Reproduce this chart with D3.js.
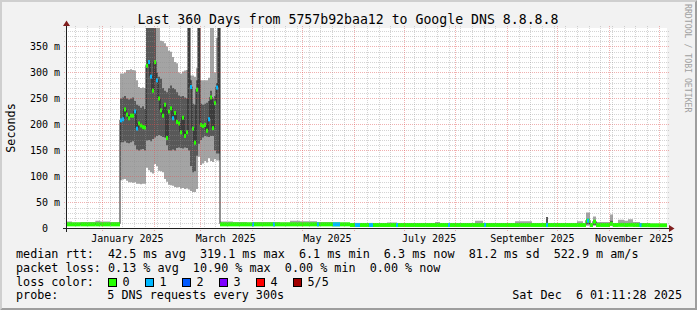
<!DOCTYPE html>
<html><head><meta charset="utf-8">
<script src="https://cdn.jsdelivr.net/npm/d3@7"></script>
<style>
html,body{margin:0;padding:0;background:#f2f2f2;}
svg{display:block;}
text{font-family:"DejaVu Sans Mono",monospace;fill:#000;}
</style></head><body>
<svg id="c" width="697" height="310"></svg>
<script>
// ---------------- data ----------------
const titleText = "Last 360 Days from 5757b92baa12 to Google DNS 8.8.8.8";
const endTimeUTC = [2025, 11, 6, 1, 11, 28];
const rangeDays = 360;
const yMaxMs = 384.6;
const yTickValues = [0, 50, 100, 150, 200, 250, 300, 350];
const xLabelMonths = ["2025-01-01", "2025-03-01", "2025-05-01", "2025-07-01", "2025-09-01", "2025-11-01"];

// early low-latency period (day offsets from chart start), values in ms
const earlyDays = [0, 3, 8, 17, 20, 26];
const earlyLo   = [6.4, 6.4, 6.4, 6.4, 6.4, 6.4];
const earlyP2   = [7.3, 7.3, 7.3, 7.3, 7.3, 7.3];
const earlyMed  = [8, 8, 8, 8, 8, 8];
const earlyP4   = [9.5, 9.5, 9.5, 10, 9.5, 9.5];
const earlyHi   = [13.5, 11.5, 12.5, 15, 13.5, 12.5];

// high-latency period (Jan - Mar 2025), one sample every 1.2 days
const highStartDay = 31.8;
const highStepDays = 1.2;
const highLo  = [93,94,95,92,89,89,88,89,86,86, 85,86,86,117,112,108,106,124,120,111, 110,108,95,90,84,83,82,80,79,80, 77,78,76,77,75,72,70,70,76,138, 122,125,130,127,135,130,128,133,131,131];
const highP2  = [166,166,168,165,164,166,168,160,152,150, 152,153,150,169,170,168,172,175,178,180, 178,176,175,160,150,150,152,150,155,156, 155,154,156,155,150,120,108,110,140,163, 170,175,178,177,176,178,178,150,144,144];
const highMed = [208,210,229,219,212,217,217,225,192,202, 198,195,194,313,320,292,265,320,285,250, 227,217,238,174,225,231,212,222,205,202, 185,213,178,185,430,272,192,165,267,430, 199,197,199,188,210,252,193,241,271,430];
const highP4  = [250,252,255,250,248,250,252,245,238,236, 232,235,230,430,430,430,430,430,300,292, 288,270,265,262,270,275,270,268,262,256, 254,255,252,250,430,285,240,238,285,430, 240,238,240,242,245,265,250,255,280,430];
const highHi  = [298,298,300,305,305,306,305,304,285,272, 270,271,270,430,430,430,430,430,430,430, 361,360,356,350,342,340,330,320,318,300, 298,302,304,305,430,294,294,292,308,430, 285,285,285,285,290,400,400,300,367,430];
const highLoss = [1,1,0,0,0,0,0,1,1,0, 0,0,0,0,1,1,0,0,1,0, 0,0,0,0,0,0,1,0,0,0, 0,0,0,0,0,1,0,0,0,0, 0,0,0,0,1,0,0,0,1,0];

// late low-latency period
const lateDays = [91.8, 99.6, 108, 111.6, 127.8, 133.8, 139.8, 150, 159.6, 169.8, 192, 198, 220.8, 223.8, 244.8, 249.6, 268.8, 279, 287.4, 288.6, 306, 309.6, 311.4, 313.8, 315.6, 317.4, 325.8, 327.6, 330.6, 334.2, 336.6, 339.6, 343.8, 349.8];
const lateLo  = [6.3,6.3,6.3,6.3,6.3,6.3,6.3,6.3,6.3,5.5, 5.5,5.5,5.5,5.5,5.5,5.5,5.5,5.5,5.5,5.5, 5.5,5.5,5.5,5.5,5.5,5.5,5.5,5.5,5.5,5.5, 5.5,5.5,5.5,5.3];
const lateP2  = [7.2,7.2,7.2,7.2,7.2,7.2,7.2,7.2,7.2,6.1, 6.1,6.1,6.1,6.1,6.1,6.1,6.1,6.1,6.3,6.1, 6.1,6.1,8,6.1,7,6.1,6.5,6.1,6.3,6.1, 6.3,6.1,5.9,5.7];
const lateMed = [8,8,8,8,8,8,8,8,8,6.8, 6.8,6.8,6.8,6.8,6.8,6.8,6.8,6.8,7,6.8, 6.8,6.8,15,6.8,13,6.8,9,6.8,7,6.8, 7,6.8,6.5,6.2];
const lateP4  = [9.5,9.5,9.5,9.5,9.5,9.5,9.5,9.5,9.5,8.3, 8.3,8.3,8.3,8.3,8.3,8.3,8.3,8.3,22,8.3, 8.3,8.3,17,8.3,14,8.3,15,8.3,8.5,8.3, 8.5,8.3,8,7.8];
const lateHi  = [13.5,12.5,11.5,12.5,11.5,15,14,12.5,11,9.5, 11.5,10.5,12.5,10,15,10,14,10,22,10, 14,10,31,10,23,12.5,27,10.5,17,15, 18,12.5,10.5,8.5];

// isolated loss events in the low periods
const lossEventDays  = [111, 123.6, 150, 159.6, 172.8, 181.2, 197.4, 228.6, 250.2, 287.4, 312, 343.5];
const lossEventLen   = [1.2, 1.2, 1.2, 4.2, 3, 2.4, 1.2, 1.2, 1.2, 1.2, 1.2, 1.2];
const lossEventLevel = [1, 1, 1, 1, 1, 1, 1, 1, 1, 1, 1, 1];

// legend
const lossLabels = ["0", "1", "2", "3", "4", "5/5"];
const lossColors = ["#26ff00", "#00b8ff", "#0059ff", "#7e00ff", "#ff0000", "#a10000"];
const statsRow1 = "median rtt:  42.5 ms avg  319.1 ms max  6.1 ms min  6.3 ms now  81.2 ms sd  522.9 m am/s";
const statsRow2 = "packet loss: 0.13 % avg  10.90 % max  0.00 % min  0.00 % now";
const lossRowLabel = "loss color:";
const probeLabel = "probe:";
const probeText = "5 DNS requests every 300s";
const dateStamp = "Sat Dec  6 01:11:28 2025";
const yAxisTitle = "Seconds";
const watermark = "RRDTOOL / TOBI OETIKER";

// ---------------- drawing ----------------
const svg = d3.select("#c");
const endTime = new Date(Date.UTC(...endTimeUTC));
const startTime = new Date(+endTime - rangeDays * 864e5);
const dayToDate = d => new Date(+startTime + d * 864e5);

const x = d3.scaleUtc().domain([startTime, endTime]).range([67, 667]);
const y = d3.scaleLinear().domain([0, yMaxMs]).range([228.5, 28.5]);

// background and 3D border
svg.append("rect").attr("width", 697).attr("height", 310).attr("fill", "#f2f2f2");
svg.append("path").attr("d", "M0,310L2,308L2,2L695,2L697,0L0,0Z").attr("fill", "#cfcfcf");
svg.append("path").attr("d", "M2,308L695,308L695,2L697,0L697,310L0,310Z").attr("fill", "#9e9e9e");

// canvas
svg.append("rect").attr("x", 67).attr("y", 28).attr("width", 600).attr("height", 200.5).attr("fill", "#fff");

svg.append("clipPath").attr("id", "plotclip").append("rect")
  .attr("x", 67).attr("y", 28).attr("width", 600).attr("height", 200.5);

// build records
const recs = [];
earlyDays.forEach((d, i) => recs.push({d, lo: earlyLo[i], p2: earlyP2[i], med: earlyMed[i], p4: earlyP4[i], hi: earlyHi[i], loss: 0}));
highMed.forEach((m, i) => recs.push({d: highStartDay + i * highStepDays, lo: highLo[i], p2: highP2[i], med: m, p4: highP4[i], hi: highHi[i], loss: highLoss[i]}));
lateDays.forEach((d, i) => recs.push({d, lo: lateLo[i], p2: lateP2[i], med: lateMed[i], p4: lateP4[i], hi: lateHi[i], loss: 0}));
recs.push(Object.assign({}, recs[recs.length - 1], {d: rangeDays}));

const gData = svg.append("g").attr("clip-path", "url(#plotclip)");
const X = r => x(dayToDate(r.d));

gData.append("path").datum(recs)
  .attr("d", d3.area().curve(d3.curveStepAfter).x(X).y0(r => y(r.lo)).y1(r => y(r.hi)))
  .attr("fill", "#a4a4a4");
gData.append("path").datum(recs)
  .attr("d", d3.area().curve(d3.curveStepAfter).x(X).y0(r => y(r.p2)).y1(r => y(r.p4)))
  .attr("fill", "#585858");
gData.append("path").datum(recs)
  .attr("d", d3.line().curve(d3.curveStepAfter).x(X).y(r => y(r.med) - 0.5))
  .attr("fill", "none").attr("stroke", "#202020").attr("stroke-width", 1);

// loss colour bands on the median
const bandHalf = 2;
const segs = recs.slice(0, -1).map((r, i) => ({x0: X(r), x1: X(recs[i + 1]), ym: y(r.med), loss: r.loss}));
gData.selectAll("rect.band").data(segs).enter().append("rect")
  .attr("x", s => s.x0).attr("width", s => Math.max(0, s.x1 - s.x0))
  .attr("y", s => s.ym - bandHalf).attr("height", bandHalf * 2)
  .attr("fill", s => lossColors[s.loss]);

const bis = d3.bisector(r => r.d).right;
const medAt = d => recs[Math.max(0, bis(recs, d) - 1)].med;
gData.selectAll("rect.ev").data(lossEventDays).enter().append("rect")
  .attr("x", d => x(dayToDate(d)))
  .attr("width", (d, i) => x(dayToDate(d + lossEventLen[i])) - x(dayToDate(d)))
  .attr("y", d => y(medAt(d)) - bandHalf).attr("height", bandHalf * 2)
  .attr("fill", (d, i) => lossColors[lossEventLevel[i]]);

// grid on top (semi-transparent dashed like rrdtool)
const gGrid = svg.append("g");
const minorCol = "rgba(143,143,143,0.38)", majorCol = "rgba(222,79,79,0.45)";
const minorY = d3.range(10, yMaxMs, 10).filter(v => v % 50 !== 0);
const majorY = yTickValues.filter(v => v > 0);
gGrid.selectAll("line.hmin").data(minorY).enter().append("line")
  .attr("x1", 64).attr("x2", 670).attr("y1", v => Math.round(y(v)) + 0.5).attr("y2", v => Math.round(y(v)) + 0.5)
  .attr("stroke", minorCol).attr("stroke-dasharray", "1,1");
gGrid.selectAll("line.hmaj").data(majorY).enter().append("line")
  .attr("x1", 64).attr("x2", 670).attr("y1", v => Math.round(y(v)) + 0.5).attr("y2", v => Math.round(y(v)) + 0.5)
  .attr("stroke", majorCol).attr("stroke-dasharray", "1,1");

const monthStarts = d3.utcMonth.range(startTime, endTime);
const weekStarts = d3.utcMonday.range(startTime, endTime)
  .filter(w => !monthStarts.some(m => Math.abs(x(m) - x(w)) < 2));
gGrid.selectAll("line.vmin").data(weekStarts).enter().append("line")
  .attr("x1", d => Math.round(x(d)) + 0.5).attr("x2", d => Math.round(x(d)) + 0.5)
  .attr("y1", 26).attr("y2", 230)
  .attr("stroke", minorCol).attr("stroke-dasharray", "1,1");
gGrid.selectAll("line.vmaj").data(monthStarts).enter().append("line")
  .attr("x1", d => Math.round(x(d)) + 0.5).attr("x2", d => Math.round(x(d)) + 0.5)
  .attr("y1", 26).attr("y2", 231)
  .attr("stroke", majorCol).attr("stroke-dasharray", "1,1");

// axes lines and arrows
svg.append("line").attr("x1", 63).attr("x2", 671).attr("y1", 228.5).attr("y2", 228.5).attr("stroke", "#1f1f1f");
svg.append("line").attr("x1", 66.5).attr("x2", 66.5).attr("y1", 232).attr("y2", 24).attr("stroke", "#1f1f1f");
svg.append("path").attr("d", "M669,225L669,232L674.5,228.5Z").attr("fill", "#801f1f");
svg.append("path").attr("d", "M63,26L70,26L66.5,20.5Z").attr("fill", "#801f1f");

// y axis labels via d3 axis
const yAxis = d3.axisLeft(y).tickValues(yTickValues).tickSize(0).tickPadding(0)
  .tickFormat(v => v === 0 ? "0" : v + " m");
const gy = svg.append("g").attr("transform", "translate(60,0)").call(yAxis);
gy.select(".domain").remove();
gy.selectAll("text").attr("font-size", "10px").attr("font-family", "DejaVu Sans Mono")
  .attr("fill", "#000").attr("dy", "0.34em")
  .attr("x", v => v === 0 ? -12 : 0);

// x axis labels (centred half a month after month start, as rrdtool does)
const labelDates = xLabelMonths.map(s => new Date(+new Date(s + "T00:00:00Z") + 15 * 864e5));
const xAxis = d3.axisBottom(x).tickValues(labelDates).tickSize(0).tickPadding(0)
  .tickFormat(d3.utcFormat("%B %Y"));
const gx = svg.append("g").attr("transform", "translate(0,0)").call(xAxis);
gx.select(".domain").remove();
gx.selectAll("text").attr("font-size", "10px").attr("font-family", "DejaVu Sans Mono")
  .attr("fill", "#000").attr("y", 242).attr("dy", 0);

// title
svg.append("text").attr("x", 348).attr("y", 23.5).attr("text-anchor", "middle")
  .attr("font-size", "13.2px").text(titleText);

// y axis title
svg.append("text").attr("transform", "translate(15,128) rotate(-90)").attr("text-anchor", "middle")
  .attr("font-size", "11.76px").text(yAxisTitle);

// watermark
svg.append("text").attr("transform", "translate(685,4) rotate(90)").attr("text-anchor", "start")
  .attr("font-size", "8.2px").style("fill", "#a0a0a0").text(watermark);

// legend
const fs = "11.76px";
svg.append("text").attr("x", 16).attr("y", 258).attr("font-size", fs).style("white-space", "pre").text(statsRow1);
svg.append("text").attr("x", 16).attr("y", 271.7).attr("font-size", fs).style("white-space", "pre").text(statsRow2);
svg.append("text").attr("x", 16).attr("y", 285.5).attr("font-size", fs).text(lossRowLabel);
const gl = svg.append("g");
lossLabels.forEach((lab, i) => {
  gl.append("rect").attr("x", 108.5 + 37 * i).attr("y", 278.5).attr("width", 8).attr("height", 8)
    .attr("fill", lossColors[i]).attr("stroke", "#000").attr("stroke-width", 1);
  gl.append("text").attr("x", 122.5 + 37 * i).attr("y", 285.5).attr("font-size", fs).text(lab);
});
svg.append("text").attr("x", 16).attr("y", 299).attr("font-size", fs).text(probeLabel);
svg.append("text").attr("x", 107.3).attr("y", 299).attr("font-size", fs).style("white-space", "pre").text(probeText);
svg.append("text").attr("x", 682).attr("y", 299).attr("text-anchor", "end").attr("font-size", fs).style("white-space", "pre").text(dateStamp);
</script>
</body></html>
